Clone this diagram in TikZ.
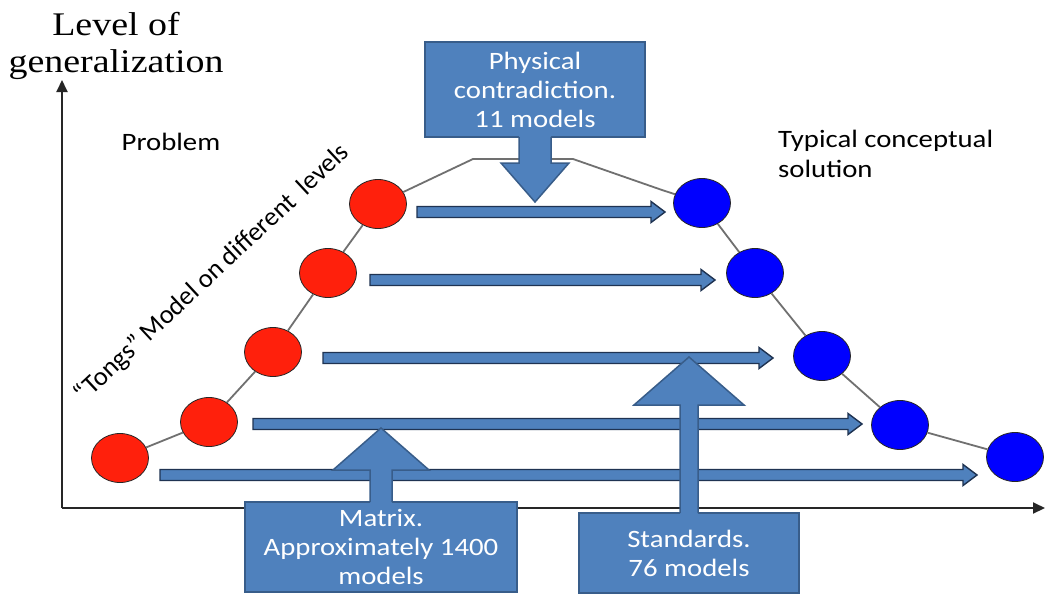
\documentclass[tikz,border=0pt]{standalone}
\usepackage{fontspec}
\setmainfont{Carlito}
\newfontfamily\labelfont[FakeStretch=1.15]{Carlito}
\newfontfamily\tongfont{Carlito}
\newfontfamily\axisfont[FakeStretch=1.15]{Liberation Serif}
\usetikzlibrary{arrows.meta, shapes.geometric, calc}
\definecolor{cProblem}{HTML}{FF200C}
\definecolor{cSolution}{HTML}{0000FF}
\definecolor{cCallout}{HTML}{4F81BD}
\definecolor{cCalloutLine}{HTML}{385D8A}
\definecolor{cArrowLine}{HTML}{1F3352}
\definecolor{cTong}{HTML}{707070}
\tikzset{
  probnode/.style={ellipse, fill=cProblem, draw=black!85, line width=0.8pt,
    minimum width=57pt, minimum height=49pt, inner sep=0pt},
  solnode/.style={probnode, fill=cSolution},
  tongline/.style={draw=cTong, line width=1.8pt},
  axisline/.style={-{Triangle[length=12pt, width=11pt]}, line width=2pt, draw=black!85},
  levelarrow/.style={fill=cCallout, draw=cArrowLine, line width=1.4pt, line join=miter},
  callbox/.style={rectangle, fill=cCallout, draw=cCalloutLine, line width=1.5pt,
    outer sep=0pt, text=white, align=center,
    font=\labelfont\fontsize{25}{29}\selectfont},
  calloutfill/.style={fill=cCallout},
  calloutline/.style={draw=cCalloutLine, line width=1.5pt, line join=miter},
  sidelabel/.style={font=\labelfont\fontsize{25}{30}\selectfont, inner sep=0pt, align=left},
}
\begin{document}
\begin{tikzpicture}[x=1pt, y=-1pt]

  \path[use as bounding box, fill=white] (0,0) rectangle (1046,595);

  % ----------------------------------------------------------------
  % Axes
  % ----------------------------------------------------------------
  \coordinate (origin) at (62,508);
  \coordinate (ytop) at (62,80);
  \coordinate (xend) at (1045,508);
  \draw[axisline] (origin) -- (ytop);
  \draw[axisline] (origin) -- (xend);

  \node[font=\axisfont\fontsize{33}{37}\selectfont, align=center, inner sep=0pt]
    (ylabel) at (116,46) {Level of\\ generalization};

  % ----------------------------------------------------------------
  % Problem levels (left) and solution levels (right)
  % ----------------------------------------------------------------
  \foreach \n/\xx/\yy in {1/120/458, 2/209/422, 3/273/352, 4/328/273, 5/378/204}
    \node[probnode] (p\n) at (\xx,\yy) {};
  \foreach \n/\xx/\yy in {1/702/203, 2/755/273, 3/822/356, 4/900/425, 5/1015/457}
    \node[solnode] (s\n) at (\xx,\yy) {};

  \coordinate (peakL) at (473,159);
  \coordinate (peakR) at (573,159);
  \coordinate (shoulder) at (662,190);
  \draw[tongline] (p1) -- (p2) -- (p3) -- (p4) -- (p5) -- (peakL) -- (peakR)
    -- (shoulder) -- (s1) -- (s2) -- (s3) -- (s4) -- (s5);

  \node[sidelabel] (problem) at (171,142) {Problem};
  \node[sidelabel, anchor=west] (solution) at (778,154) {Typical conceptual\\ solution};
  \node[font=\tongfont\fontsize{26.5}{30}\selectfont, rotate=43, inner sep=0pt]
    (tongs) at (212,274) {“Tongs” Model on different~ levels};

  % ----------------------------------------------------------------
  % Level arrows: problem -> solution
  % ----------------------------------------------------------------
  \foreach \n/\xa/\xb/\yy in {1/417/665/212, 2/370/715/280, 3/323/773/358,
                              4/253/862/424, 5/160/977/475} {
    \coordinate (from\n) at (\xa,\yy);
    \coordinate (to\n) at (\xb,\yy);
    \filldraw[levelarrow] ($(from\n)+(0,-5.5)$) -- ($(to\n)+(-14,-5.5)$) -- ++(0,-5)
      -- (to\n) -- ($(to\n)+(-14,10.5)$) -- ++(0,-5) -- ($(from\n)+(0,5.5)$) -- cycle;
  }

  % ----------------------------------------------------------------
  % Callouts
  % ----------------------------------------------------------------
  \node[callbox, minimum width=220pt, minimum height=95pt] (physbox) at (535,89.5)
    {Physical\\ contradiction.\\ 11 models};
  \fill[calloutfill] ([xshift=-16pt]physbox.south) ++(0,-3) -- ++(0,29) -- ++(-18,0)
    -- ++(34,39) -- ++(34,-39) -- ++(-18,0) -- ++(0,-29) -- cycle;
  \draw[calloutline] ([xshift=-16pt]physbox.south) -- ++(0,26) -- ++(-18,0)
    -- ++(34,39) -- ++(34,-39) -- ++(-18,0) -- ++(0,-26);

  \node[callbox, minimum width=272pt, minimum height=90pt] (matrixbox) at (381,547)
    {Matrix.\\ Approximately 1400\\ models};
  \fill[calloutfill] ([xshift=-11pt]matrixbox.north) ++(0,3) -- ++(0,-35) -- ++(-37,0)
    -- ++(48,-42) -- ++(48,42) -- ++(-37,0) -- ++(0,35) -- cycle;
  \draw[calloutline] ([xshift=-11pt]matrixbox.north) -- ++(0,-32) -- ++(-37,0)
    -- ++(48,-42) -- ++(48,42) -- ++(-37,0) -- ++(0,32);

  \node[callbox, minimum width=220pt, minimum height=80pt] (stdbox) at (689,553)
    {Standards.\\ 76 models};
  \fill[calloutfill] ([xshift=-9pt]stdbox.north) ++(0,3) -- ++(0,-111) -- ++(-46,0)
    -- ++(55,-48) -- ++(55,48) -- ++(-46,0) -- ++(0,111) -- cycle;
  \draw[calloutline] ([xshift=-9pt]stdbox.north) -- ++(0,-108) -- ++(-46,0)
    -- ++(55,-48) -- ++(55,48) -- ++(-46,0) -- ++(0,108);

\end{tikzpicture}
\end{document}
